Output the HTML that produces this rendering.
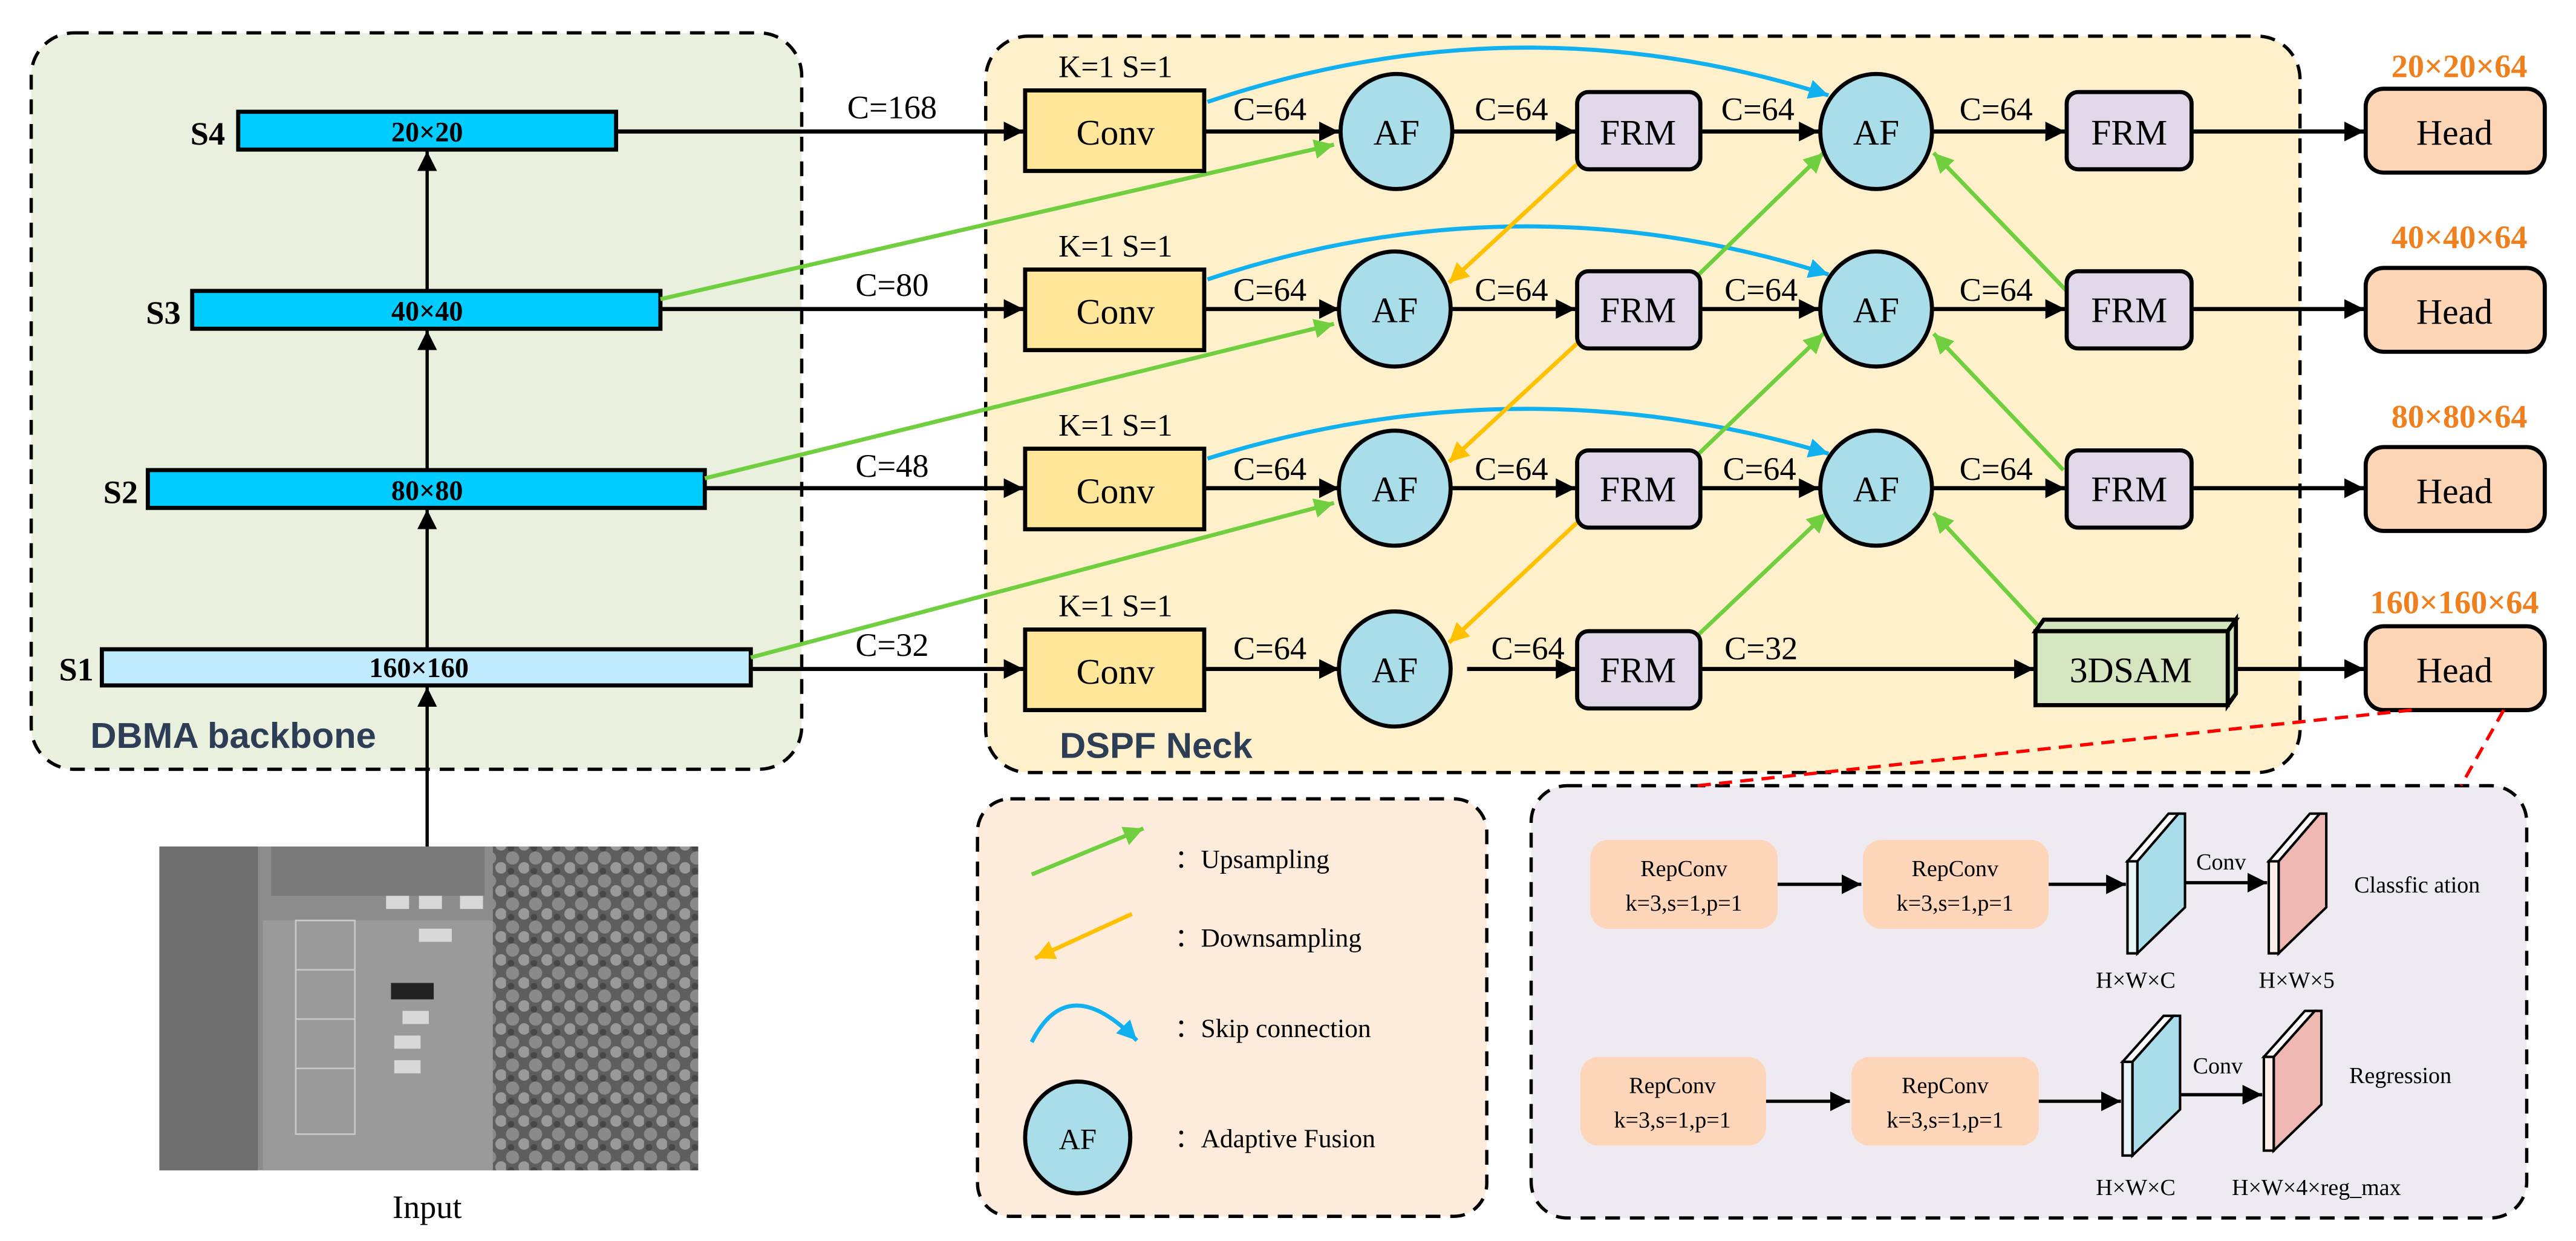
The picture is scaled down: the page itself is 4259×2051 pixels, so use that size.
<!DOCTYPE html>
<html><head><meta charset="utf-8"><style>
html,body{margin:0;padding:0;background:#fff;}
svg{display:block;}
text{font-family:"Liberation Serif",serif;}
</style></head><body>
<svg width="4259" height="2051" viewBox="0 0 1568 755" preserveAspectRatio="none" xmlns="http://www.w3.org/2000/svg">
<defs>
<marker id="ab" markerUnits="userSpaceOnUse" markerWidth="14" markerHeight="14" refX="12" refY="6" orient="auto"><path d="M0,0 L12,6 L0,12 z" fill="#000"/></marker>
<marker id="ag" markerUnits="userSpaceOnUse" markerWidth="14" markerHeight="14" refX="12" refY="6" orient="auto"><path d="M0,0 L12,6 L0,12 z" fill="#6fcf3f"/></marker>
<marker id="ay" markerUnits="userSpaceOnUse" markerWidth="14" markerHeight="14" refX="12" refY="6" orient="auto"><path d="M0,0 L12,6 L0,12 z" fill="#ffc000"/></marker>
<marker id="ac" markerUnits="userSpaceOnUse" markerWidth="14" markerHeight="14" refX="12" refY="6" orient="auto"><path d="M0,0 L12,6 L0,12 z" fill="#11b0ee"/></marker>
<pattern id="tree" width="14" height="14" patternUnits="userSpaceOnUse"><rect width="14" height="14" fill="#5e5e5e"/><circle cx="4" cy="4" r="4" fill="#8a8a8a"/><circle cx="11" cy="10" r="3.5" fill="#9a9a9a"/><circle cx="3" cy="12" r="2" fill="#474747"/></pattern>
</defs>

<!-- panels -->
<rect x="19" y="20" width="469" height="448" rx="26" fill="#e9f0dd" stroke="#000" stroke-width="2" stroke-dasharray="9,6"/>
<rect x="600" y="22" width="800" height="448" rx="26" fill="#fdf0cb" stroke="#000" stroke-width="2" stroke-dasharray="9,6"/>
<rect x="595" y="486" width="310" height="254" rx="20" fill="#fdebdc" stroke="#000" stroke-width="2" stroke-dasharray="9,6"/>
<rect x="932" y="478" width="606" height="263" rx="22" fill="#efe9f1" stroke="#000" stroke-width="2" stroke-dasharray="9,6"/>

<!-- backbone -->
<g stroke="#000" stroke-width="2.5" fill="#00ccff">
<rect x="145" y="68" width="230" height="23"/>
<rect x="117" y="177" width="285" height="23"/>
<rect x="90" y="286" width="339" height="23"/>
<rect x="62" y="395" width="395" height="22" fill="#c0ebfc"/>
</g>
<g font-weight="bold" font-size="17" text-anchor="middle">
<text x="260" y="86">20×20</text><text x="260" y="195">40×40</text><text x="260" y="304">80×80</text><text x="255" y="412">160×160</text>
</g>
<g font-weight="bold" font-size="20" text-anchor="end">
<text x="137" y="88">S4</text><text x="110" y="197">S3</text><text x="84" y="306">S2</text><text x="57" y="414">S1</text>
</g>
<g stroke="#000" stroke-width="2" marker-end="url(#ab)">
<line x1="260" y1="177" x2="260" y2="92"/>
<line x1="260" y1="286" x2="260" y2="201"/>
<line x1="260" y1="395" x2="260" y2="310"/>
<line x1="260" y1="515" x2="260" y2="418"/>
</g>
<text x="55" y="455" font-family="Liberation Sans,sans-serif" font-weight="bold" font-size="22" fill="#2e3d56" style="font-family:'Liberation Sans',sans-serif">DBMA backbone</text>
<text x="645" y="461" font-weight="bold" font-size="22" fill="#2e3d56" style="font-family:'Liberation Sans',sans-serif">DSPF Neck</text>

<!-- input image -->
<rect x="97" y="515" width="328" height="197" fill="#8c8c8c"/>
<rect x="97" y="515" width="60" height="197" fill="#6e6e6e"/>
<rect x="160" y="560" width="140" height="152" fill="#9a9a9a"/>
<rect x="300" y="515" width="125" height="197" fill="url(#tree)"/>
<rect x="165" y="515" width="130" height="30" fill="#7a7a7a"/>
<g fill="#d8d8d8"><rect x="235" y="545" width="14" height="8"/><rect x="255" y="545" width="14" height="8"/><rect x="280" y="545" width="14" height="8"/><rect x="255" y="565" width="20" height="8"/><rect x="245" y="615" width="16" height="8"/><rect x="240" y="630" width="16" height="8"/><rect x="240" y="645" width="16" height="8"/></g>
<rect x="238" y="598" width="26" height="10" fill="#222"/>
<g stroke="#c8c8c8" stroke-width="1" fill="none"><rect x="180" y="560" width="36" height="130"/><line x1="180" y1="590" x2="216" y2="590"/><line x1="180" y1="620" x2="216" y2="620"/><line x1="180" y1="650" x2="216" y2="650"/></g>
<text x="260" y="741" font-size="20" text-anchor="middle">Input</text>

<!-- backbone to conv -->
<g stroke="#000" stroke-width="2.5" marker-end="url(#ab)">
<line x1="375" y1="80" x2="623" y2="80"/>
<line x1="402" y1="188" x2="623" y2="188"/>
<line x1="429" y1="297" x2="623" y2="297"/>
<line x1="457" y1="407" x2="623" y2="407"/>
</g>
<g font-size="20" text-anchor="middle">
<text x="543" y="72">C=168</text><text x="543" y="180">C=80</text><text x="543" y="290">C=48</text><text x="543" y="399">C=32</text>
</g>
<!-- green backbone upsampling -->
<g stroke="#6fcf3f" stroke-width="2.5" marker-end="url(#ag)">
<line x1="402" y1="182" x2="812" y2="88"/>
<line x1="429" y1="291" x2="812" y2="197"/>
<line x1="457" y1="400" x2="812" y2="306"/>
</g>

<!-- conv boxes -->
<g stroke="#000" stroke-width="2.5" fill="#ffe699">
<rect x="624" y="55" width="109" height="49"/>
<rect x="624" y="164" width="109" height="49"/>
<rect x="624" y="273" width="109" height="49"/>
<rect x="624" y="383" width="109" height="49"/>
</g>
<g font-size="22" text-anchor="middle">
<text x="679" y="88">Conv</text><text x="679" y="197">Conv</text><text x="679" y="306">Conv</text><text x="679" y="416">Conv</text>
</g>
<g font-size="19" text-anchor="middle">
<text x="679" y="47">K=1 S=1</text><text x="679" y="156">K=1 S=1</text><text x="679" y="265">K=1 S=1</text><text x="679" y="375">K=1 S=1</text>
</g>

<!-- horizontal connectors -->
<g stroke="#000" stroke-width="2.5" marker-end="url(#ab)">
<line x1="733" y1="80" x2="815" y2="80"/><line x1="733" y1="188" x2="815" y2="188"/><line x1="733" y1="297" x2="815" y2="297"/><line x1="733" y1="407" x2="815" y2="407"/>
<line x1="884" y1="80" x2="959" y2="80"/><line x1="884" y1="188" x2="959" y2="188"/><line x1="884" y1="297" x2="959" y2="297"/><line x1="893" y1="407" x2="959" y2="407"/>
<line x1="1035" y1="80" x2="1107" y2="80"/><line x1="1035" y1="188" x2="1107" y2="188"/><line x1="1035" y1="297" x2="1107" y2="297"/><line x1="1035" y1="407" x2="1238" y2="407"/>
<line x1="1176" y1="80" x2="1257" y2="80"/><line x1="1176" y1="188" x2="1257" y2="188"/><line x1="1176" y1="297" x2="1257" y2="297"/>
<line x1="1334" y1="80" x2="1439" y2="80"/><line x1="1334" y1="188" x2="1439" y2="188"/><line x1="1334" y1="297" x2="1439" y2="297"/><line x1="1361" y1="407" x2="1439" y2="407"/>
</g>
<g font-size="20" text-anchor="middle">
<text x="773" y="73">C=64</text><text x="773" y="183">C=64</text><text x="773" y="292">C=64</text><text x="773" y="401">C=64</text>
<text x="920" y="73">C=64</text><text x="920" y="183">C=64</text><text x="920" y="292">C=64</text><text x="930" y="401">C=64</text>
<text x="1070" y="73">C=64</text><text x="1072" y="183">C=64</text><text x="1071" y="292">C=64</text><text x="1072" y="401">C=32</text>
<text x="1215" y="73">C=64</text><text x="1215" y="183">C=64</text><text x="1215" y="292">C=64</text>
</g>

<!-- skip arcs -->
<g stroke="#11b0ee" stroke-width="2.5" fill="none" marker-end="url(#ac)">
<path d="M735,62 Q925,-2 1113,58"/>
<path d="M735,170 Q925,107 1113,167"/>
<path d="M735,279 Q925,220 1113,276"/>
</g>
<!-- downsampling -->
<g stroke="#ffc000" stroke-width="2.5" marker-end="url(#ay)">
<line x1="961" y1="99" x2="882" y2="172"/>
<line x1="961" y1="208" x2="882" y2="281"/>
<line x1="961" y1="317" x2="882" y2="391"/>
</g>
<!-- green inner upsampling -->
<g stroke="#6fcf3f" stroke-width="2.5" marker-end="url(#ag)">
<line x1="1034" y1="167" x2="1110" y2="93"/>
<line x1="1034" y1="276" x2="1110" y2="203"/>
<line x1="1034" y1="386" x2="1112" y2="312"/>
<line x1="1258" y1="177" x2="1177" y2="93"/>
<line x1="1256" y1="286" x2="1177" y2="203"/>
<line x1="1240" y1="380" x2="1177" y2="312"/>
</g>

<!-- AF -->
<g stroke="#000" stroke-width="2.5" fill="#a8dde9">
<ellipse cx="850" cy="80" rx="34" ry="35"/><ellipse cx="849" cy="188" rx="34" ry="35"/><ellipse cx="849" cy="297" rx="34" ry="35"/><ellipse cx="849" cy="407" rx="34" ry="35"/>
<ellipse cx="1142" cy="80" rx="34" ry="35"/><ellipse cx="1142" cy="188" rx="34" ry="35"/><ellipse cx="1142" cy="297" rx="34" ry="35"/>
</g>
<g font-size="22" text-anchor="middle">
<text x="850" y="88">AF</text><text x="849" y="196">AF</text><text x="849" y="305">AF</text><text x="849" y="415">AF</text>
<text x="1142" y="88">AF</text><text x="1142" y="196">AF</text><text x="1142" y="305">AF</text>
</g>
<!-- FRM -->
<g stroke="#000" stroke-width="2.5" fill="#e0d7e8">
<rect x="960" y="56" width="75" height="47" rx="7"/><rect x="960" y="165" width="75" height="47" rx="7"/><rect x="960" y="274" width="75" height="47" rx="7"/><rect x="960" y="384" width="75" height="47" rx="7"/>
<rect x="1258" y="56" width="76" height="47" rx="7"/><rect x="1258" y="165" width="76" height="47" rx="7"/><rect x="1258" y="274" width="76" height="47" rx="7"/>
</g>
<g font-size="22" text-anchor="middle">
<text x="997" y="88">FRM</text><text x="997" y="196">FRM</text><text x="997" y="305">FRM</text><text x="997" y="415">FRM</text>
<text x="1296" y="88">FRM</text><text x="1296" y="196">FRM</text><text x="1296" y="305">FRM</text>
</g>
<!-- 3DSAM -->
<g stroke="#000" stroke-width="2.5" fill="#d5e5c0">
<polygon points="1239,384 1244,377 1361,377 1356,384"/>
<polygon points="1356,384 1361,377 1361,422 1356,429"/>
<rect x="1239" y="384" width="117" height="45"/>
</g>
<text x="1297" y="415" font-size="22" text-anchor="middle">3DSAM</text>

<!-- heads -->
<g stroke="#000" stroke-width="2.5" fill="#fbd5b5">
<rect x="1440" y="54" width="109" height="51" rx="11"/><rect x="1440" y="163" width="109" height="51" rx="11"/><rect x="1440" y="272" width="109" height="51" rx="11"/><rect x="1440" y="381" width="109" height="51" rx="11"/>
</g>
<g font-size="22" text-anchor="middle">
<text x="1494" y="88">Head</text><text x="1494" y="197">Head</text><text x="1494" y="306">Head</text><text x="1494" y="415">Head</text>
</g>
<g font-size="20" font-weight="bold" fill="#f07f1e" text-anchor="middle">
<text x="1497" y="47">20×20×64</text><text x="1497" y="151">40×40×64</text><text x="1497" y="260">80×80×64</text><text x="1494" y="373">160×160×64</text>
</g>
<g stroke="#ff0000" stroke-width="2" stroke-dasharray="8,5">
<line x1="1468" y1="432" x2="1033" y2="478"/>
<line x1="1524" y1="432" x2="1498" y2="478"/>
</g>

<!-- legend -->
<line x1="628" y1="532" x2="696" y2="504" stroke="#6fcf3f" stroke-width="2.5" marker-end="url(#ag)"/>
<line x1="689" y1="556" x2="630" y2="583" stroke="#ffc000" stroke-width="2.5" marker-end="url(#ay)"/>
<path d="M628,634 Q650,590 692,633" stroke="#11b0ee" stroke-width="2.5" fill="none" marker-end="url(#ac)"/>
<ellipse cx="656" cy="692" rx="32" ry="34" fill="#a8dde9" stroke="#000" stroke-width="2.5"/>
<text x="656" y="699" font-size="18" text-anchor="middle">AF</text>
<g font-size="16">
<text x="715" y="528">：Upsampling</text>
<text x="715" y="576">：Downsampling</text>
<text x="715" y="631">：Skip connection</text>
<text x="715" y="698">：Adaptive Fusion</text>
</g>

<!-- head detail -->
<g fill="#fdd5b8">
<rect x="968" y="511" width="114" height="54" rx="11"/><rect x="1134" y="511" width="113" height="54" rx="11"/>
<rect x="962" y="643" width="113" height="54" rx="11"/><rect x="1127" y="643" width="114" height="54" rx="11"/>
</g>
<g font-size="14" text-anchor="middle">
<text x="1025" y="533">RepConv</text><text x="1025" y="554">k=3,s=1,p=1</text>
<text x="1190" y="533">RepConv</text><text x="1190" y="554">k=3,s=1,p=1</text>
<text x="1018" y="665">RepConv</text><text x="1018" y="686">k=3,s=1,p=1</text>
<text x="1184" y="665">RepConv</text><text x="1184" y="686">k=3,s=1,p=1</text>
</g>
<g stroke="#000" stroke-width="2" marker-end="url(#ab)">
<line x1="1082" y1="538" x2="1133" y2="538"/><line x1="1247" y1="538" x2="1294" y2="538"/>
<line x1="1330" y1="537" x2="1380" y2="537"/>
<line x1="1075" y1="670" x2="1126" y2="670"/><line x1="1241" y1="670" x2="1291" y2="670"/>
<line x1="1327" y1="666" x2="1377" y2="666"/>
</g>
<g stroke="#000" stroke-width="1.5">
<polygon points="1301,524 1326,495 1330,495 1330,552 1301,580" fill="#a8dde9"/>
<polygon points="1295,524 1320,495 1326,495 1301,524" fill="#fff"/>
<rect x="1295" y="524" width="6" height="56" fill="#e8f6fa"/>
<polygon points="1387,524 1412,495 1416,495 1416,552 1387,580" fill="#f0b8b2"/>
<polygon points="1381,524 1406,495 1412,495 1387,524" fill="#fff"/>
<rect x="1381" y="524" width="6" height="56" fill="#fdeeea"/>
<polygon points="1298,646 1323,618 1327,618 1327,675 1298,703" fill="#a8dde9"/>
<polygon points="1292,646 1317,618 1323,618 1298,646" fill="#fff"/>
<rect x="1292" y="646" width="6" height="57" fill="#e8f6fa"/>
<polygon points="1384,643 1409,615 1413,615 1413,672 1384,700" fill="#f0b8b2"/>
<polygon points="1378,643 1403,615 1409,615 1384,643" fill="#fff"/>
<rect x="1378" y="643" width="6" height="57" fill="#fdeeea"/>
</g>
<g font-size="14" text-anchor="middle">
<text x="1352" y="529">Conv</text><text x="1350" y="653">Conv</text>
<text x="1300" y="601">H×W×C</text><text x="1398" y="601">H×W×5</text>
<text x="1300" y="727">H×W×C</text><text x="1410" y="727">H×W×4×reg_max</text>
</g>
<g font-size="14">
<text x="1433" y="543">Classfic ation</text>
<text x="1430" y="659">Regression</text>
</g>
</svg>
</body></html>
